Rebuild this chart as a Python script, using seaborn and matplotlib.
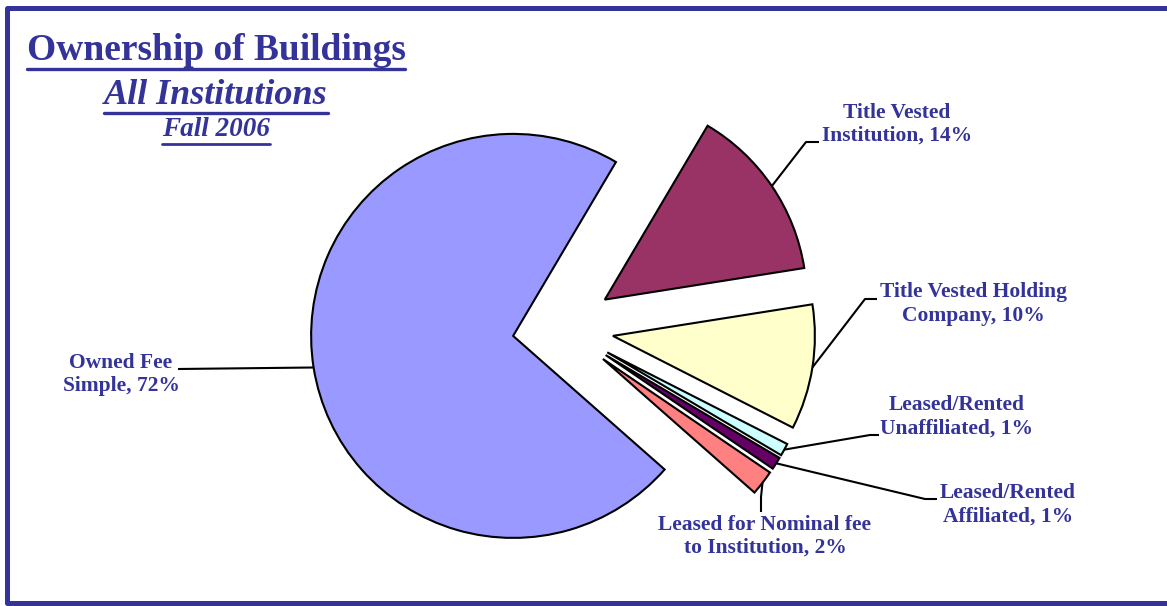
import numpy as np
import matplotlib
matplotlib.use("Agg")
import matplotlib.pyplot as plt
from matplotlib.lines import Line2D
import seaborn as sns

# data
categories = ["Owned Fee\nSimple", "Title Vested\nInstitution", "Title Vested Holding\nCompany",
              "Leased/Rented\nUnaffiliated", "Leased/Rented\nAffiliated",
              "Leased for Nominal fee\nto Institution"]
shares = [72, 14, 10, 1, 1, 2]
slice_colors = ["#9999FF", "#993366", "#FFFFCC", "#CCFFFF", "#660066", "#FF8080"]

title = "Ownership of Buildings"
subtitle = "All Institutions"
period = "Fall 2006"

# style
sns.set_theme(style="white")
plt.rcParams["font.family"] = ["Liberation Serif", "DejaVu Serif"]
navy = "#333399"

W, H = 1167, 606
fig = plt.figure(figsize=(W / 100, H / 100), dpi=100)
ax = fig.add_axes([0, 0, 1, 1])


def py(y):
    # pixel row -> data y (axis points up)
    return H - y


R = 202
wedges, _ = ax.pie(
    shares,
    colors=sns.color_palette(slice_colors),
    startangle=318.6,
    counterclock=False,
    explode=[0.25 * R] * len(shares),   # explode is in data units here
    center=(563, py(328)),
    radius=R,
    wedgeprops=dict(edgecolor="black", linewidth=1.5),
)
ax.set_xlim(0, W)
ax.set_ylim(0, H)
ax.set_aspect("auto")
ax.axis("off")

# label placement: text centre, leader bend, leader end (pixels)
label_pos = [
    ((121, 375), None, (178, 369)),
    ((897, 124), (806, 142), (819, 142)),
    ((973, 304), (865, 299), (877, 299)),
    ((957, 417), (870, 435), (879, 435)),
    ((1008, 505), (925, 499), (937, 499)),
    ((765, 536), (761, 497), (761, 512)),
]

for w, cat, v, (tpos, bend, end) in zip(wedges, categories, shares, label_pos):
    mid = np.deg2rad((w.theta1 + w.theta2) / 2)
    sx = w.center[0] + w.r * np.cos(mid)
    sy = w.center[1] + w.r * np.sin(mid)
    xs, ys = [sx], [sy]
    if bend is not None:
        xs.append(bend[0])
        ys.append(py(bend[1]))
    xs.append(end[0])
    ys.append(py(end[1]))
    ax.plot(xs, ys, color="black", lw=1.5, solid_capstyle="butt")
    ax.text(tpos[0], py(tpos[1]), f"{cat}, {v}%", ha="center", va="center",
            multialignment="center", fontsize=15.5, fontweight="bold",
            color=navy, linespacing=1.2)

# titles
t1 = ax.text(216, py(50), title, ha="center", va="center", fontsize=27,
             fontweight="bold", color=navy)
t2 = ax.text(216, py(95), subtitle, ha="center", va="center", fontsize=26,
             fontweight="bold", fontstyle="italic", color=navy)
t3 = ax.text(216, py(130), period, ha="center", va="center", fontsize=19.5,
             fontweight="bold", fontstyle="italic", color=navy)

fig.canvas.draw()
renderer = fig.canvas.get_renderer()
for t, gap, lw in [(t1, 1, 2.4), (t2, 1, 2.4), (t3, 1, 2.0)]:
    bb = t.get_window_extent(renderer)
    yline = bb.y0 - gap
    fig.add_artist(Line2D([bb.x0, bb.x1], [yline, yline], transform=None,
                          color=navy, lw=lw))

# frame
fig.add_artist(Line2D([W + 5, 7, 7, W + 5], [py(8), py(8), py(603), py(603)],
                      transform=None, color=navy, lw=3.6))

fig.savefig("out.png", dpi=100)
